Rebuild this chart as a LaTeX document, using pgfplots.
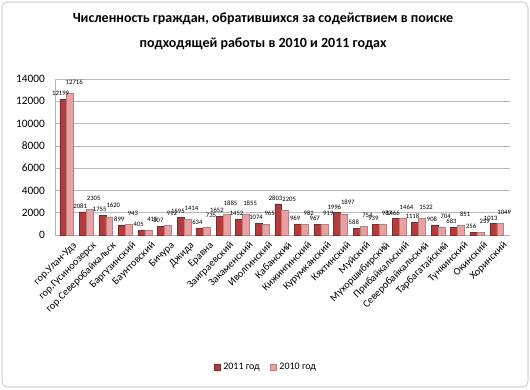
\documentclass[border=0pt]{standalone}
\usepackage{pgfplots}
\pgfplotsset{compat=1.18}
\usepackage{fontspec}
\setmainfont{Carlito}
\definecolor{c11}{HTML}{B33C3C}
\definecolor{c10}{HTML}{E8A0A0}
\begin{document}
\begin{tikzpicture}[x=0.75pt,y=0.75pt]
\path[use as bounding box] (0,0) rectangle (530,389);
\draw[gray!60, rounded corners=4pt] (2,2) rectangle (528,387);
\node[font=\bfseries\fontsize{10.5}{18.5}\selectfont, align=center] at (263,358) {Численность граждан, обратившихся за содействием в поиске\\подходящей работы в 2010 и 2011 годах};
\begin{axis}[
  at={(41.25pt,115.5pt)}, anchor=south west,
  scale only axis, width=341pt, height=117pt,
  ybar=0pt, bar width=5.2pt,
  ymin=0, ymax=14000, ytick={0,2000,...,14000},
  xmin=-0.6, xmax=22.66,
  xtick={0,...,22},
  xticklabels={гор.Улан-Удэ,гор.Гусиноозерск,гор.Северобайкальск,Баргузинский,Баунтовский,Бичура,Джида,Еравна,Заиграевский,Закаменский,Иволгинский,Кабанский,Кижингинский,Курумканский,Кяхтинский,Муйский,Мухоршибирский,Прибайкальский,Северобайкальский,Тарбагатайский,Тункинский,Окинский,Хоринский},
  xticklabel style={rotate=45, anchor=north east, font=\fontsize{7.8}{8}\selectfont, inner sep=0pt, yshift=-6pt},
  yticklabel style={font=\fontsize{8.5}{9}\selectfont, xshift=-4pt},
  major tick length=0pt,
  ymajorgrids, grid style={gray!55},
  axis x line*=bottom, axis y line*=left,
  axis line style={gray!60},
  scaled y ticks=false,
  /pgf/number format/assume math mode=true,
  /pgf/number format/1000 sep={},
  nodes near coords={\pgfmathprintnumber[fixed,precision=0,1000 sep={}]{\pgfplotspointmeta}},
  every node near coord/.append style={font=\fontsize{5}{6}\selectfont, inner sep=0.5pt, black},
  legend style={at={(0.465,-0.85)}, anchor=center, legend columns=2, draw=none, font=\fontsize{7.5}{8}\selectfont, /tikz/every even column/.append style={column sep=6pt}, inner sep=1pt},
  legend image code/.code={\fill[#1] (0pt,-2.2pt) rectangle (4.4pt,2.2pt);},
]
\addplot[fill=c11, draw=c11!70!black, nodes near coords style={yshift=2pt, xshift=-2pt}] coordinates {
(0,12199) (1,2081) (2,1755) (3,899) (4,405) (5,807) (6,1595) (7,634) (8,1652) (9,1452) (10,1074) (11,2803) (12,969) (13,967) (14,1996) (15,588) (16,939) (17,1466) (18,1118) (19,908) (20,683) (21,256) (22,1013)};
\addlegendentry{2011 год}
\addplot[fill=c10, draw=c10!80!black, nodes near coords style={yshift=6pt, xshift=3pt}] coordinates {
(0,12716) (1,2305) (2,1620) (3,943) (4,415) (5,912) (6,1414) (7,735) (8,1885) (9,1855) (10,965) (11,2205) (12,982) (13,919) (14,1897) (15,754) (16,987) (17,1464) (18,1522) (19,704) (20,851) (21,259) (22,1049)};
\addlegendentry{2010 год}
\end{axis}
\end{tikzpicture}
\end{document}
